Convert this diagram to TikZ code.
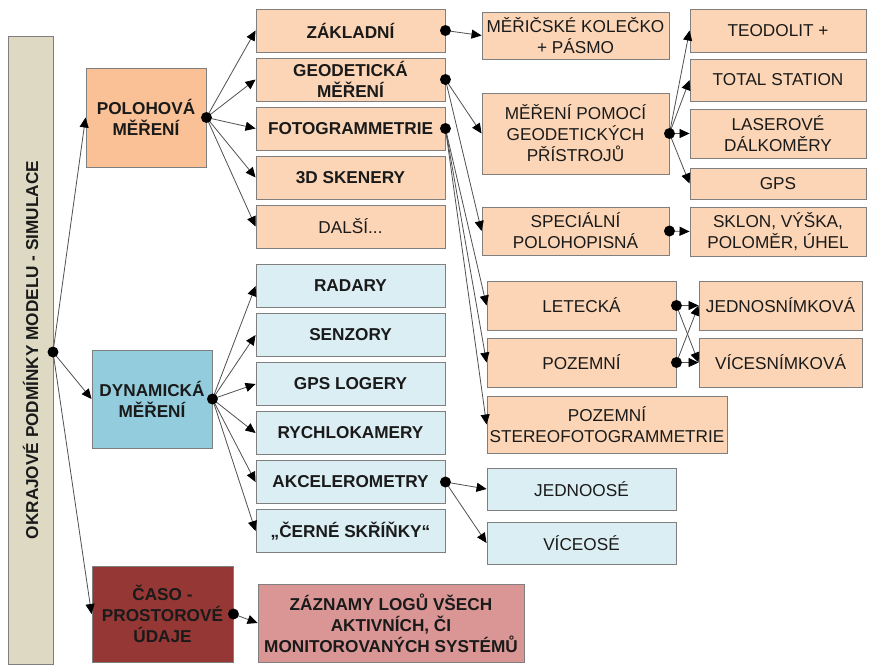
\documentclass[tikz,border=0pt]{standalone}
\usepackage{fontspec}
\setmainfont{Liberation Sans}
\usetikzlibrary{arrows.meta}
\definecolor{PeachLight}{HTML}{FBD5B5}
\definecolor{PeachDeep}{HTML}{F9C195}
\definecolor{IceLight}{HTML}{DBEEF4}
\definecolor{IceDeep}{HTML}{93CDDD}
\definecolor{BrickDeep}{HTML}{953735}
\definecolor{BrickLight}{HTML}{D99694}
\definecolor{TanFrame}{HTML}{DDD9C3}
\definecolor{BoxEdge}{HTML}{7F7F7F}
\definecolor{LinkGray}{HTML}{505050}
\definecolor{Ink}{HTML}{1A1A1A}
\tikzset{
  box/.style={draw=BoxEdge, line width=0.9pt, inner sep=1pt, align=center, text=Ink,
    font=\fontsize{17.2}{21}\selectfont},
  bbox/.style={box, font=\fontsize{17.2}{21}\selectfont\bfseries},
  midcol/.style={minimum width=189pt, minimum height=43pt},
  link/.style={draw=LinkGray, line width=0.8pt, -{Triangle[length=10pt,width=9pt,black]}},
  hub/.style={fill=black},
}

\begin{document}
\begin{tikzpicture}[x=1pt, y=-1pt]
  \fill[white] (0,0) rectangle (870,664);
  \useasboundingbox (0,0) rectangle (870,664);

  % left frame
  \node[bbox, fill=TanFrame, minimum width=45pt, minimum height=628pt] (frame) at (30.5,350)
    {\rotatebox{90}{OKRAJOVÉ PODMÍNKY MODELU - SIMULACE}};
  \coordinate (framehub) at (53,352);

  % main groups
  \node[bbox, fill=PeachDeep, minimum width=120pt, minimum height=99pt] (polo) at (146,117.5) {POLOHOVÁ\\MĚŘENÍ};
  \node[bbox, fill=IceDeep, minimum width=120pt, minimum height=98pt] (dyn) at (152,399) {DYNAMICKÁ\\MĚŘENÍ};
  \node[bbox, fill=BrickDeep, minimum width=141pt, minimum height=96pt] (caso) at (162.5,614) {ČASO -\\PROSTOROVÉ\\ÚDAJE};

  % position measurement
  \node[bbox, midcol, fill=PeachLight] (zakl) at (350.5,30.5) {ZÁKLADNÍ};
  \node[bbox, midcol, fill=PeachLight] (geod) at (350.5,79.5) {GEODETICKÁ\\MĚŘENÍ};
  \node[bbox, midcol, fill=PeachLight] (foto) at (350.5,128.5) {FOTOGRAMMETRIE};
  \node[bbox, midcol, fill=PeachLight] (sken) at (350.5,177.5) {3D SKENERY};
  \node[box, midcol, fill=PeachLight] (dalsi) at (350.5,226.5) {DALŠÍ...};

  \node[box, fill=PeachLight, minimum width=187pt, minimum height=47pt] (meric) at (575.5,35.5) {MĚŘIČSKÉ KOLEČKO\\+ PÁSMO};
  \node[box, fill=PeachLight, minimum width=187pt, minimum height=81pt] (pomoc) at (575.5,133.5) {MĚŘENÍ POMOCÍ\\GEODETICKÝCH\\PŘÍSTROJŮ};
  \node[box, fill=PeachLight, minimum width=187pt, minimum height=48pt] (spec) at (575.5,231) {SPECIÁLNÍ\\POLOHOPISNÁ};

  \node[box, fill=PeachLight, minimum width=176pt, minimum height=43pt] (teod) at (778,30.5) {TEODOLIT +};
  \node[box, fill=PeachLight, minimum width=176pt, minimum height=42pt] (total) at (778,80) {TOTAL STATION};
  \node[box, fill=PeachLight, minimum width=176pt, minimum height=49pt] (laser) at (778,133.5) {LASEROVÉ\\DÁLKOMĚRY};
  \node[box, fill=PeachLight, minimum width=176pt, minimum height=31pt] (gps) at (778,183.5) {GPS};
  \node[box, fill=PeachLight, minimum width=176pt, minimum height=49pt] (sklon) at (778,231.5) {SKLON, VÝŠKA,\\POLOMĚR, ÚHEL};

  \node[box, fill=PeachLight, minimum width=189pt, minimum height=49pt] (let) at (581.5,305.5) {LETECKÁ};
  \node[box, fill=PeachLight, minimum width=189pt, minimum height=49pt] (pozem) at (581.5,362.5) {POZEMNÍ};
  \node[box, fill=PeachLight, minimum width=240pt, minimum height=57pt] (stereo) at (607,424.5) {POZEMNÍ\\STEREOFOTOGRAMMETRIE};
  \node[box, fill=PeachLight, minimum width=163pt, minimum height=49pt] (jedno) at (780.5,305.5) {JEDNOSNÍMKOVÁ};
  \node[box, fill=PeachLight, minimum width=163pt, minimum height=49pt] (vice) at (780.5,362.5) {VÍCESNÍMKOVÁ};

  % dynamic measurement
  \node[bbox, midcol, fill=IceLight] (radar) at (350.5,286) {RADARY};
  \node[bbox, midcol, fill=IceLight] (senz) at (350.5,335) {SENZORY};
  \node[bbox, midcol, fill=IceLight] (gpslog) at (350.5,384) {GPS LOGERY};
  \node[bbox, midcol, fill=IceLight] (rychl) at (350.5,433) {RYCHLOKAMERY};
  \node[bbox, midcol, fill=IceLight] (akcel) at (350.5,482) {AKCELEROMETRY};
  \node[bbox, midcol, fill=IceLight] (cerne) at (350.5,531) {„ČERNÉ SKŘÍŇKY“};
  \node[box, fill=IceLight, minimum width=189pt, minimum height=42pt] (jednoos) at (581.5,489) {JEDNOOSÉ};
  \node[box, fill=IceLight, minimum width=189pt, minimum height=42pt] (viceos) at (581.5,543) {VÍCEOSÉ};

  % time-space data
  \node[bbox, fill=BrickLight, minimum width=266pt, minimum height=78pt] (zazn) at (391,623) {ZÁZNAMY LOGŮ VŠECH\\AKTIVNÍCH, ČI\\MONITOROVANÝCH SYSTÉMŮ};

  % connectors
  \path (framehub) edge[link] (polo.west) edge[link] (dyn.west) edge[link] (caso.west);
  \path (polo.east) edge[link] (zakl.west) edge[link] (geod.west) edge[link] (foto.west)
    edge[link] (sken.west) edge[link] (dalsi.west);
  \path (zakl.east) edge[link] (meric.west);
  \path (geod.east) edge[link] (pomoc.west) edge[link] (spec.west);
  \path (foto.east) edge[link] (let.west) edge[link] (pozem.west) edge[link] (stereo.west);
  \path (pomoc.east) edge[link] (teod.west) edge[link] (total.west) edge[link] (laser.west) edge[link] (gps.west);
  \path (spec.east) edge[link] (sklon.west);
  \path (let.east) edge[link] (jedno.west) edge[link] (vice.west);
  \path (pozem.east) edge[link] (jedno.west) edge[link] (vice.west);
  \path (dyn.east) edge[link] (radar.west) edge[link] (senz.west) edge[link] (gpslog.west)
    edge[link] (rychl.west) edge[link] (akcel.west) edge[link] (cerne.west);
  \path (akcel.east) edge[link] (jednoos.west) edge[link] (viceos.west);
  \path (caso.east) edge[link] (zazn.west);

  % hubs
  \fill[hub] (framehub) circle (5.5pt);
  \fill[hub] (polo.east) circle (5.5pt);
  \fill[hub] (zakl.east) circle (5.5pt);
  \fill[hub] (geod.east) circle (5.5pt);
  \fill[hub] (foto.east) circle (5.5pt);
  \fill[hub] (pomoc.east) circle (5.5pt);
  \fill[hub] (spec.east) circle (5.5pt);
  \fill[hub] (let.east) circle (5.5pt);
  \fill[hub] (pozem.east) circle (5.5pt);
  \fill[hub] (dyn.east) circle (5.5pt);
  \fill[hub] (akcel.east) circle (5.5pt);
  \fill[hub] (caso.east) circle (5.5pt);
\end{tikzpicture}
\end{document}
